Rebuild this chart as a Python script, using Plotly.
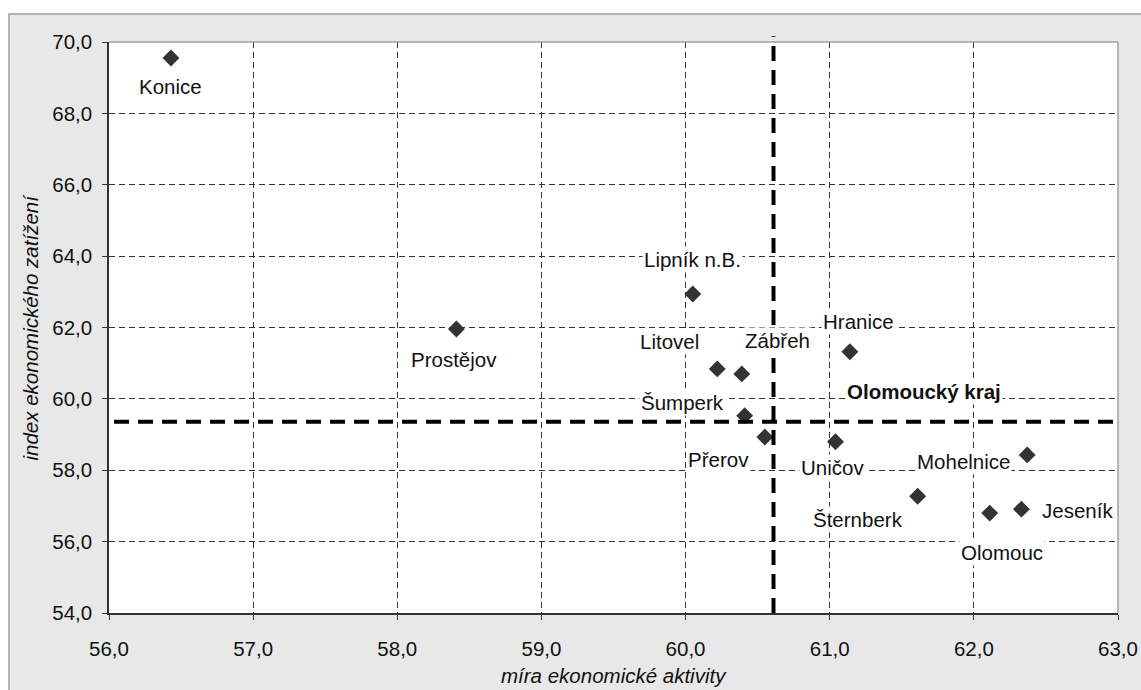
import plotly.graph_objects as go

# ---- data ----
districts = ["Konice", "Lipník n.B.", "Prostějov", "Litovel", "Zábřeh", "Šumperk",
             "Přerov", "Hranice", "Uničov", "Mohelnice", "Šternberk", "Olomouc", "Jeseník"]
activity = [56.43, 60.05, 58.41, 60.22, 60.39, 60.41,
            60.55, 61.14, 61.04, 62.37, 61.61, 62.11, 62.33]
burden = [69.55, 62.94, 61.96, 60.84, 60.70, 59.53,
          58.93, 61.32, 58.80, 58.43, 57.27, 56.80, 56.91]

region_name = "Olomoucký kraj"
region_activity = 60.61
region_burden = 59.36

x_ticks = [56, 57, 58, 59, 60, 61, 62, 63]
y_ticks = [54, 56, 58, 60, 62, 64, 66, 68, 70]

x_title = "míra ekonomické aktivity"
y_title = "index ekonomického zatížení"

# label offsets in pixels (style only)
label_shift = {
    "Konice": (0, -28), "Lipník n.B.": (0, 34), "Prostějov": (-2, -31),
    "Litovel": (-48, 27), "Zábřeh": (36, 33), "Šumperk": (-62, 13),
    "Přerov": (-46, -22), "Hranice": (9, 30), "Uničov": (-3, -26),
    "Mohelnice": (-64, -7), "Šternberk": (-60, -23), "Olomouc": (12, -39),
    "Jeseník": (56, -1),
}

FONT = "Liberation Sans, Arial, sans-serif"
FS = 20.5
W, H = 1141, 690
ML, MR, MT, MB = 109, 23, 42, 77
PW, PH = W - ML - MR, H - MT - MB

fig = go.Figure()
fig.add_trace(go.Scatter(
    x=activity, y=burden, mode="markers",
    marker=dict(symbol="diamond", size=13, color="#333333", line=dict(width=0)),
    showlegend=False, hoverinfo="skip",
))

annotations = []
for name, xv, yv in zip(districts, activity, burden):
    dx, dy = label_shift[name]
    annotations.append(dict(
        x=xv, y=yv, xref="x", yref="y", text=name, showarrow=False,
        xshift=dx, yshift=dy, bgcolor="white", borderpad=1,
        font=dict(family=FONT, size=FS, color="#111111"),
    ))
annotations.append(dict(
    x=region_activity, y=region_burden, xref="x", yref="y", text="<b>" + region_name + "</b>",
    showarrow=False, xshift=150, yshift=30, bgcolor="white", borderpad=1,
    font=dict(family=FONT, size=FS, color="#111111"),
))
annotations.append(dict(
    x=0.5, y=(0 - (675 - (H - MB))) / PH, xref="paper", yref="paper", text=x_title,
    showarrow=False, yanchor="middle", font=dict(family=FONT, size=FS, color="#111111", style="italic"),
))
annotations.append(dict(
    x=(30 - ML) / PW, y=0.5, xref="paper", yref="paper", text=y_title, textangle=-90,
    showarrow=False, xanchor="center", yanchor="middle",
    font=dict(family=FONT, size=FS, color="#111111", style="italic"),
))

shapes = [
    # outer chart area
    dict(type="rect", xref="paper", yref="paper",
         x0=(9 - ML) / PW, x1=1.06, y0=-0.3, y1=((H - MB) - 14) / PH,
         fillcolor="#e8e8e8", line=dict(color="#a0a0a0", width=1.5), layer="below"),
    # white plot area
    dict(type="rect", xref="paper", yref="paper", x0=0, x1=1, y0=0, y1=1,
         fillcolor="white", line=dict(width=0), layer="below"),
    # plot area top/right border
    dict(type="line", xref="paper", yref="paper", x0=0, x1=1, y0=1, y1=1,
         line=dict(color="#a0a0a0", width=1.5), layer="above"),
    dict(type="line", xref="paper", yref="paper", x0=1, x1=1, y0=0, y1=1,
         line=dict(color="#a0a0a0", width=1.5), layer="above"),
    # region reference lines
    dict(type="line", xref="x", yref="paper", x0=region_activity, x1=region_activity,
         y0=0, y1=1.01, line=dict(color="black", width=4, dash="15px,9px"), layer="above"),
    dict(type="line", xref="paper", yref="y", x0=0.005, x1=1, y0=region_burden, y1=region_burden,
         line=dict(color="black", width=4, dash="15px,9px"), layer="above"),
]

fig.update_layout(
    width=W, height=H,
    margin=dict(l=ML, r=MR, t=MT, b=MB, pad=0, autoexpand=False),
    paper_bgcolor="white", plot_bgcolor="rgba(0,0,0,0)",
    separators=", ",
    font=dict(family=FONT, size=FS, color="#111111"),
    annotations=annotations, shapes=shapes,
    xaxis=dict(range=[56, 63], tickvals=x_ticks, tickformat=".1f", automargin=False,
               showgrid=True, gridcolor="#333333", gridwidth=1, griddash="6px,4px",
               showline=True, linecolor="#333333", linewidth=1.5,
               ticks="outside", ticklen=5, tickcolor="#333333", ticklabelstandoff=12,
               zeroline=False, tickfont=dict(size=FS)),
    yaxis=dict(range=[54, 70], tickvals=y_ticks, tickformat=".1f", automargin=False,
               showgrid=True, gridcolor="#333333", gridwidth=1, griddash="6px,4px",
               showline=True, linecolor="#333333", linewidth=1.5,
               ticks="outside", ticklen=5, tickcolor="#333333", ticklabelstandoff=6,
               zeroline=False, tickfont=dict(size=FS)),
)

fig.write_html("out.html", config={"displayModeBar": False})
with open("out.html", "r", encoding="utf-8") as f:
    html = f.read()
html = html.replace("<head>", "<head><style>html,body{margin:0;padding:0;overflow:hidden;}</style>", 1)
with open("out.html", "w", encoding="utf-8") as f:
    f.write(html)
